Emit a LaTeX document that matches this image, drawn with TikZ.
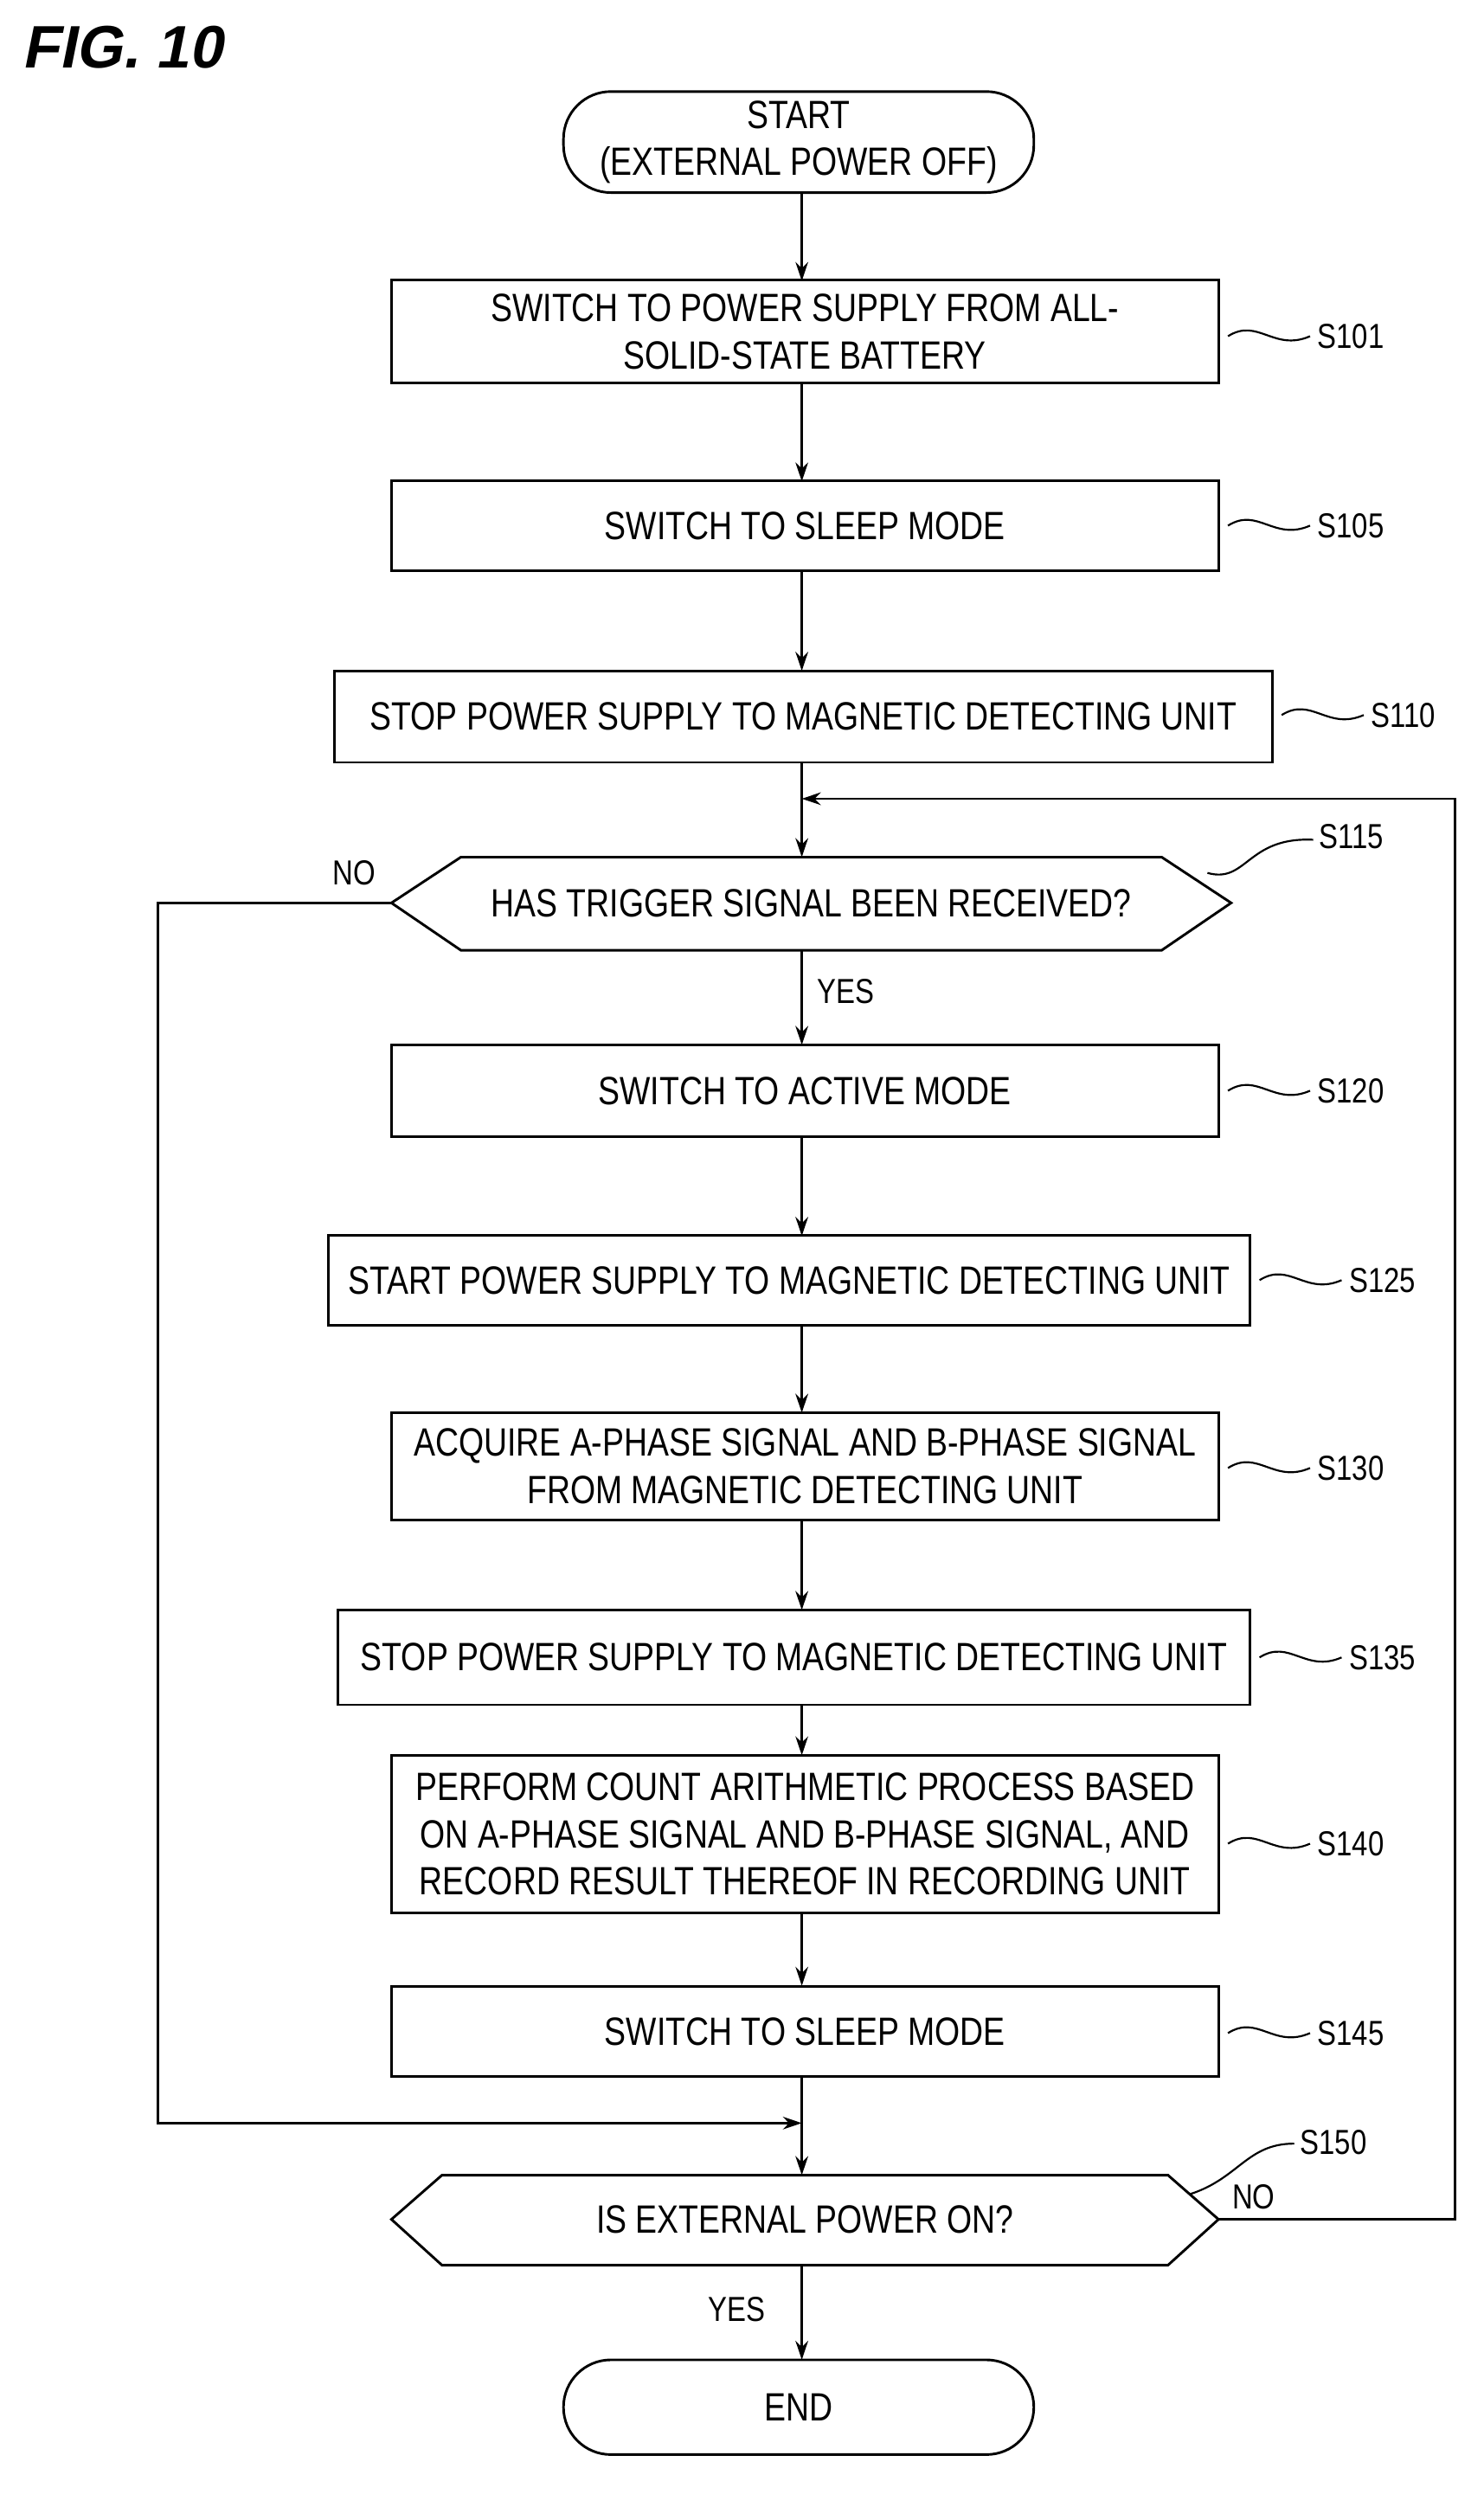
\documentclass[tikz,border=0pt]{standalone}
\usepackage{fontspec}
\setmainfont{Liberation Sans}[FakeStretch=0.82]
\newfontfamily\figfont{Liberation Sans}[FakeSlant=0.2]
\usetikzlibrary{arrows.meta}
\begin{document}
\begin{tikzpicture}[x=1pt,y=-1pt,
  line width=1.6pt,
  box/.style={draw, align=center, font=\fontsize{25}{30}\selectfont, inner sep=0pt},
  txt/.style={align=center, font=\fontsize{25}{30}\selectfont, inner sep=0pt},
  lab/.style={font=\fontsize{22}{24}\selectfont, anchor=west, inner sep=0pt},
  arr/.style={-{Stealth[length=12pt,width=8pt]}}]
\useasboundingbox (0,0) rectangle (940,1580);
\node[anchor=west, font=\figfont\fontsize{38}{40}\selectfont\bfseries] (fig) at (10,30) {FIG. 10};
% terminals
\node[box, rounded corners=30pt, minimum width=298pt, minimum height=64pt] (start) at (506,90) {START\\(EXTERNAL POWER OFF)};
\node[box, rounded corners=30pt, minimum width=298pt, minimum height=60pt] (end) at (506,1525) {END};
% boxes
\node[box, minimum width=524pt, minimum height=65pt] (s101) at (510,210) {SWITCH TO POWER SUPPLY FROM ALL-\\SOLID-STATE BATTERY};
\node[box, minimum width=524pt, minimum height=57pt] (s105) at (510,333) {SWITCH TO SLEEP MODE};
\node[box, minimum width=594pt, minimum height=58pt] (s110) at (509,454) {STOP POWER SUPPLY TO MAGNETIC DETECTING UNIT};
\node[txt, minimum width=532pt, minimum height=59pt] (s115) at (514,572) {HAS TRIGGER SIGNAL BEEN RECEIVED?};
\draw (248,572) -- (292,543) -- (736,543) -- (780,572) -- (736,602) -- (292,602) -- cycle;
\node[box, minimum width=524pt, minimum height=58pt] (s120) at (510,691) {SWITCH TO ACTIVE MODE};
\node[box, minimum width=584pt, minimum height=57pt] (s125) at (500,811) {START POWER SUPPLY TO MAGNETIC DETECTING UNIT};
\node[box, minimum width=524pt, minimum height=68pt] (s130) at (510,929) {ACQUIRE A-PHASE SIGNAL AND B-PHASE SIGNAL\\FROM MAGNETIC DETECTING UNIT};
\node[box, minimum width=578pt, minimum height=60pt] (s135) at (503,1050) {STOP POWER SUPPLY TO MAGNETIC DETECTING UNIT};
\node[box, minimum width=524pt, minimum height=100pt] (s140) at (510,1162) {PERFORM COUNT ARITHMETIC PROCESS BASED\\ON A-PHASE SIGNAL AND B-PHASE SIGNAL, AND\\RECORD RESULT THEREOF IN RECORDING UNIT};
\node[box, minimum width=524pt, minimum height=57pt] (s145) at (510,1287) {SWITCH TO SLEEP MODE};
\node[txt, minimum width=524pt, minimum height=58pt] (s150) at (510,1406) {IS EXTERNAL POWER ON?};
\draw (248,1406) -- (280,1378) -- (740,1378) -- (772,1406) -- (740,1435) -- (280,1435) -- cycle;
% coordinates
\coordinate (loopin) at (508,506);
\coordinate (merge) at (508,1345);
\coordinate (nl1) at (100,572);
\coordinate (nl2) at (100,1345);
\coordinate (nr1) at (922,1406);
\coordinate (nr2) at (922,506);
% flow
\draw[arr] (508,122) -- (508,178);
\draw[arr] (508,243) -- (508,305);
\draw[arr] (508,362) -- (508,425);
\draw[arr] (508,483) -- (508,543);
\draw[arr] (508,602) -- (508,662);
\draw[arr] (508,720) -- (508,783);
\draw[arr] (508,840) -- (508,895);
\draw[arr] (508,963) -- (508,1020);
\draw[arr] (508,1080) -- (508,1112);
\draw[arr] (508,1212) -- (508,1258);
\draw[arr] (508,1315) -- (508,1378);
\draw[arr] (508,1435) -- (508,1495);
\draw[arr] (248,572) -- (nl1) -- (nl2) -- (merge);
\draw[arr] (772,1406) -- (nr1) -- (nr2) -- (loopin);
\node[lab] (no1) at (210,553) {NO};
\node[lab] (yes1) at (517,628) {YES};
\node[lab] (no2) at (780,1392) {NO};
\node[lab] (yes2) at (448,1463) {YES};
% step labels with squiggles
\foreach \x/\y/\n in {772/213/S101, 772/333/S105, 806/453/S110, 772/691/S120, 792/811/S125, 772/930/S130, 792/1050/S135, 772/1168/S140, 772/1288/S145}{
  \draw[line width=1.2pt] (\x+6,\y) .. controls (\x+25,\y-12) and (\x+35,\y+10) .. (\x+58,\y);
  \node[lab] at (\x+62,\y) {\n};
}
\draw[line width=1.2pt] (765,553) .. controls (790,560) and (790,530) .. (832,532);
\node[lab] (l115) at (835,530) {S115};
\draw[line width=1.2pt] (754,1390) .. controls (785,1380) and (790,1358) .. (820,1358);
\node[lab] (l150) at (823,1357) {S150};
\end{tikzpicture}
\end{document}
